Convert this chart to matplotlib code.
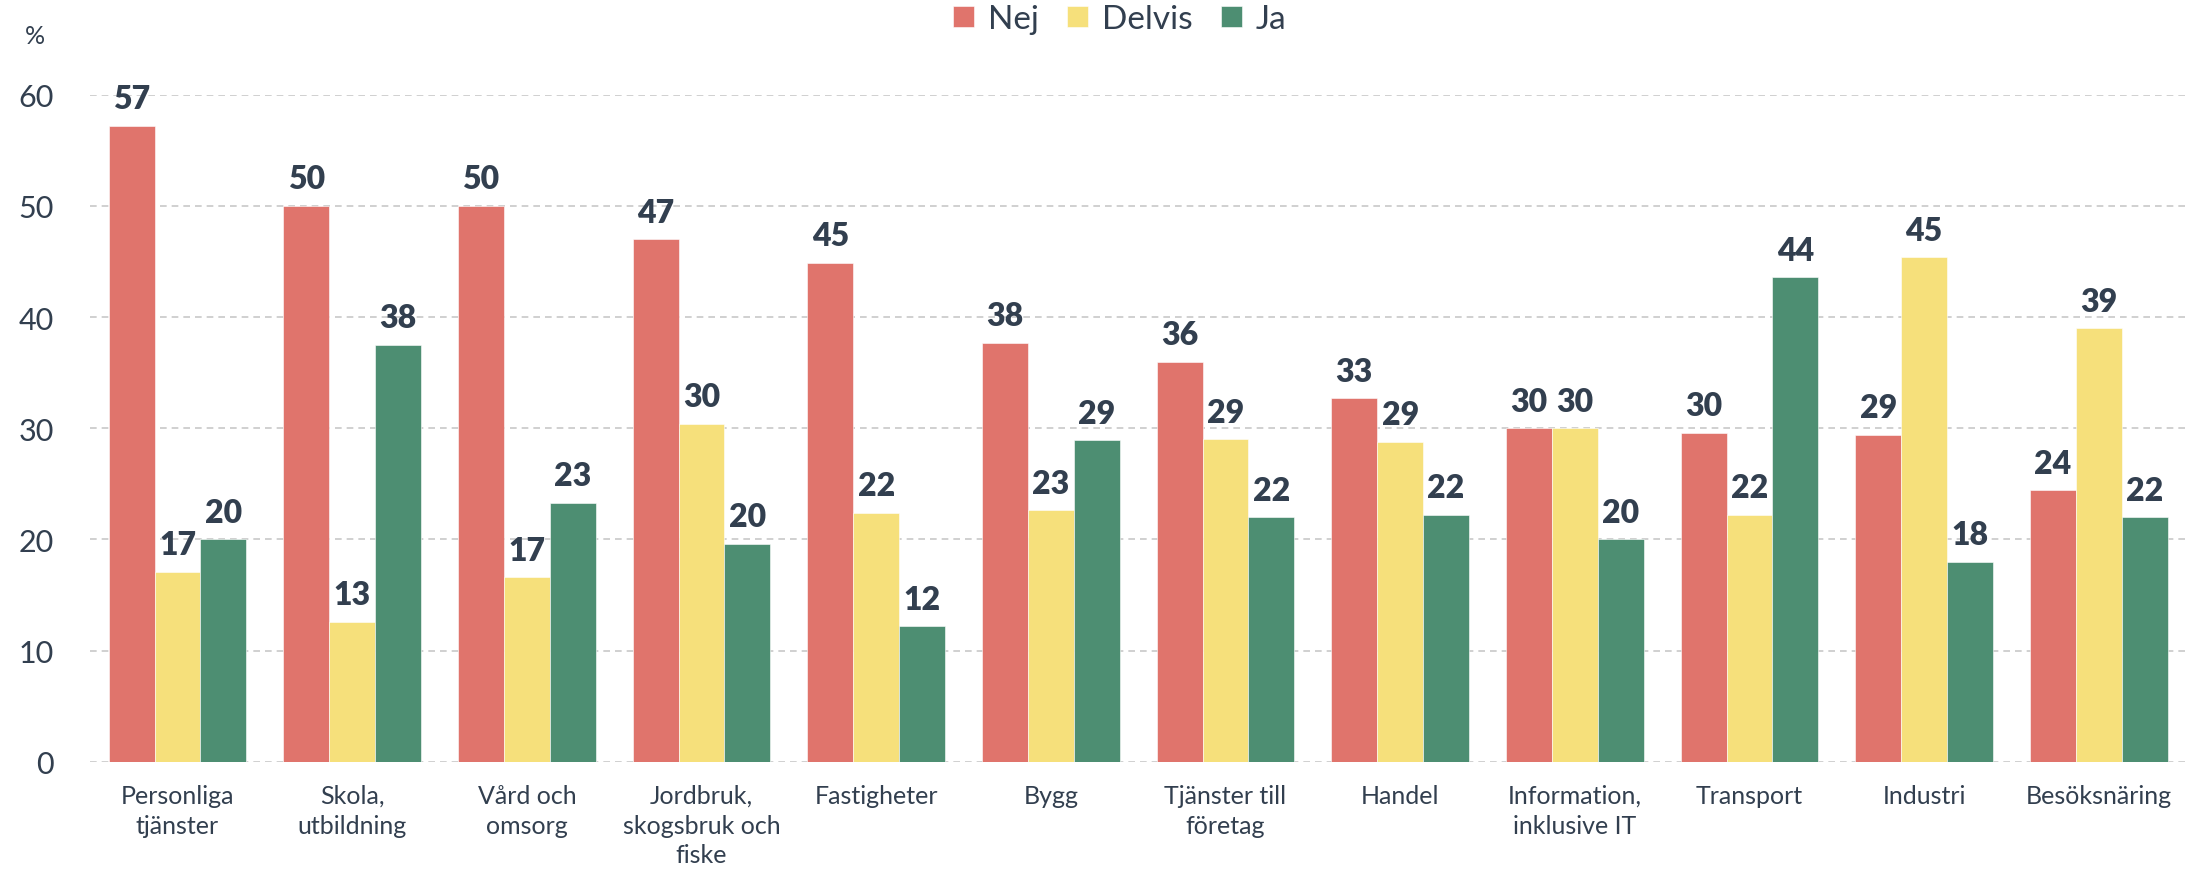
import numpy as np
import matplotlib
matplotlib.use("Agg")
import matplotlib.pyplot as plt

plt.rcParams["font.family"] = ["Lato", "DejaVu Sans"]

categories = [
    "Personliga\ntjänster",
    "Skola,\nutbildning",
    "Vård och\nomsorg",
    "Jordbruk,\nskogsbruk och\nfiske",
    "Fastigheter",
    "Bygg",
    "Tjänster till\nföretag",
    "Handel",
    "Information,\ninklusive IT",
    "Transport",
    "Industri",
    "Besöksnäring",
]
nej = [57.2, 50.0, 50.0, 47.0, 44.9, 37.7, 36.0, 32.7, 30.0, 29.6, 29.4, 24.4]
delvis = [17.1, 12.6, 16.6, 30.4, 22.4, 22.6, 29.0, 28.8, 30.0, 22.2, 45.4, 39.0]
ja = [20.0, 37.5, 23.3, 19.6, 12.2, 28.9, 22.0, 22.2, 20.0, 43.6, 18.0, 22.0]

series = [("Nej", nej, "#E0746C"), ("Delvis", delvis, "#F6E07B"), ("Ja", ja, "#4D8E72")]
text_color = "#323F4F"

fig = plt.figure(figsize=(22, 8.79), dpi=100)
ax = fig.add_axes([0.041, 0.1323, 0.9527, 0.7588])

x = np.arange(len(categories))
width = 0.263

for i, (name, vals, color) in enumerate(series):
    pos = x + (i - 1) * width
    bars = ax.bar(pos, vals, width, color=color, label=name, zorder=3,
                  edgecolor="white", linewidth=0.4)
    for b, v in zip(bars, vals):
        ax.annotate(f"{v:.0f}", (b.get_x() + b.get_width() / 2, v),
                    xytext=(0, 9), textcoords="offset points",
                    ha="center", va="bottom", fontsize=23, fontweight="heavy",
                    color=text_color, annotation_clip=False)

ax.set_xlim(-0.5, len(categories) - 0.5)
ax.set_ylim(0, 60)
ax.set_yticks(range(0, 61, 10))
ax.yaxis.grid(True, linestyle=(0, (4, 3)), color="#C8C8C8", linewidth=1.2, zorder=0)
ax.set_axisbelow(True)
for s in ax.spines.values():
    s.set_visible(False)

ax.set_xticks(x)
ax.set_xticklabels(categories, fontsize=18, color=text_color, linespacing=1.35)
ax.tick_params(axis="x", length=0, pad=16)
ax.tick_params(axis="y", length=0, pad=26, labelsize=22, labelcolor=text_color)

fig.text(0.016, 0.958, "%", fontsize=18, color=text_color, ha="center", va="center")

fig.legend(loc="center", bbox_to_anchor=(0.509, 0.977), ncol=3, frameon=False,
           fontsize=24, handlelength=0.62, handleheight=0.62, handletextpad=0.42,
           columnspacing=0.85, labelcolor=text_color)

fig.savefig("out.png", dpi=100)
